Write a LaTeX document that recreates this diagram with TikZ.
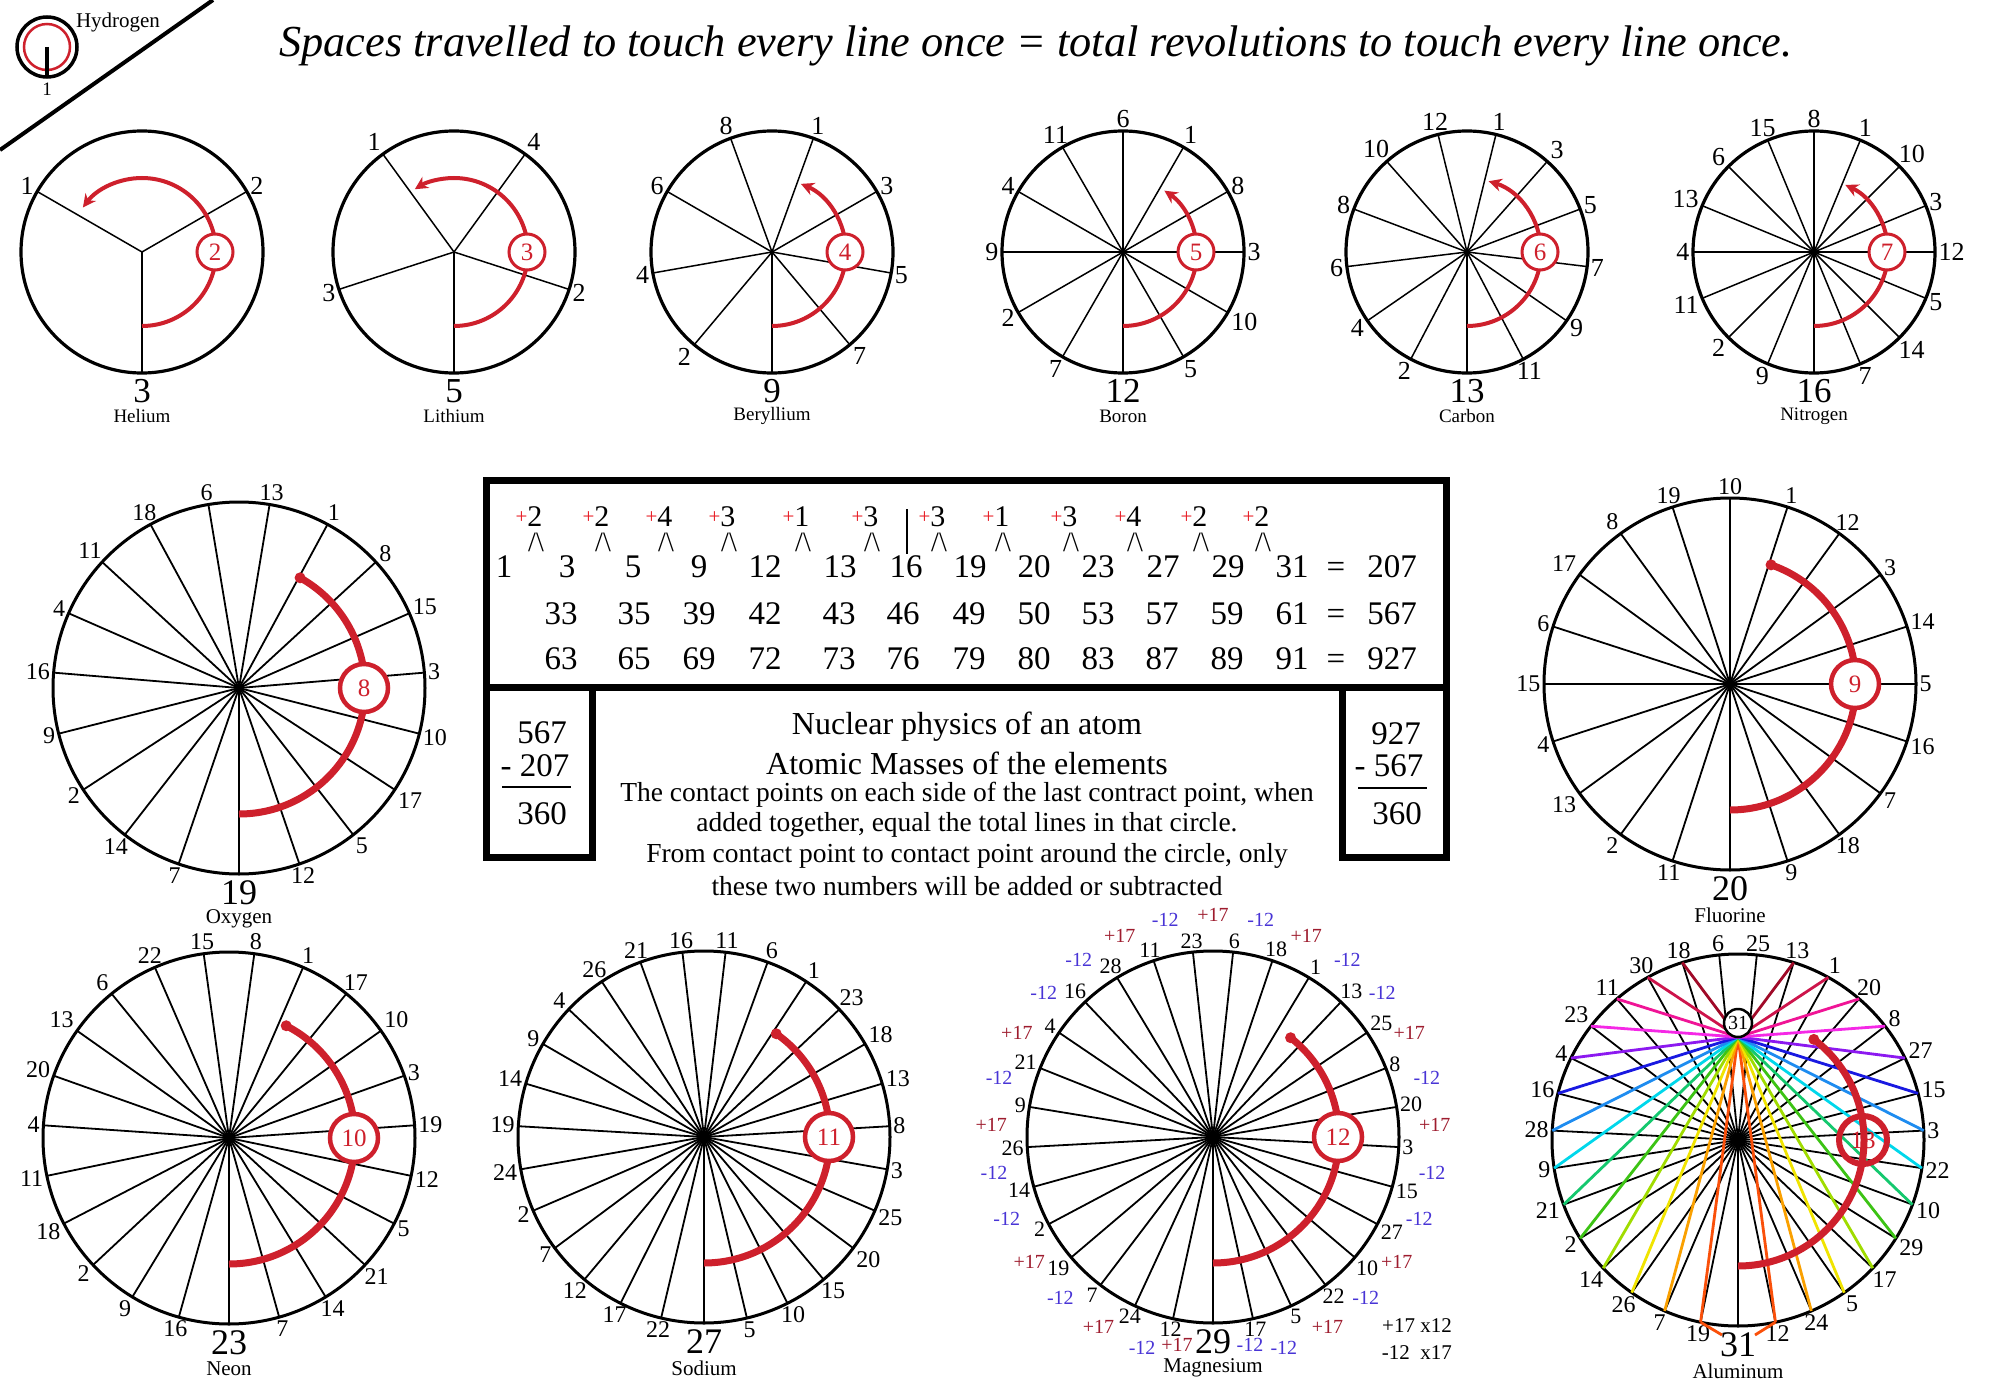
\documentclass[tikz,border=0pt]{standalone}
\usepackage{fontspec}
\setmainfont{Liberation Serif}
\usetikzlibrary{arrows.meta}
\definecolor{wred}{RGB}{206,32,44}
\definecolor{pred}{RGB}{232,28,36}
\definecolor{mgred}{RGB}{158,28,46}
\definecolor{mgblue}{RGB}{72,52,214}
\definecolor{alc1}{RGB}{250,80,10}
\definecolor{alc2}{RGB}{250,160,0}
\definecolor{alc3}{RGB}{240,228,0}
\definecolor{alc4}{RGB}{160,220,0}
\definecolor{alc5}{RGB}{60,195,20}
\definecolor{alc6}{RGB}{20,200,110}
\definecolor{alc7}{RGB}{0,215,235}
\definecolor{alc8}{RGB}{30,140,240}
\definecolor{alc9}{RGB}{25,25,225}
\definecolor{alc10}{RGB}{140,25,240}
\definecolor{alc11}{RGB}{245,40,230}
\definecolor{alc12}{RGB}{240,20,150}
\definecolor{alc13}{RGB}{205,20,75}
\definecolor{alc14}{RGB}{160,10,40}
\newcommand\fs[1]{\fontsize{#1}{#1}\selectfont}
\def\numoffA{18}\def\nameoffA{43}
\def\numoffB{19}\def\nameoffB{45}
\tikzset{
 rimA/.style={line width=3.2pt},
 spokeA/.style={line width=1.5pt},
 rimB/.style={line width=3pt},
 spokeB/.style={line width=1.8pt},
 lblA/.style={inner sep=2.5pt, font=\fs{26}},
 lblB/.style={inner sep=2.5pt, font=\fs{24}},
 lblx/.style={},
 bigA/.style={inner sep=0pt, font=\fs{35}},
 bigB/.style={inner sep=0pt, font=\fs{36}},
 nameA/.style={inner sep=0pt, font=\fs{19}},
 nameB/.style={inner sep=0pt, font=\fs{21}},
 arcA/.style={wred, line width=4pt, -{Stealth[length=13pt,width=13pt]}},
 arcB/.style={wred, line width=7pt},
 kA/.style={circle, draw=wred, line width=3pt, fill=white, text=wred, minimum size=36pt, inner sep=0pt, font=\fs{25}},
 kB/.style={circle, draw=wred, line width=4.5pt, fill=white, text=wred, minimum size=48pt, inner sep=0pt, font=\fs{25}},
 alline/.style={line width=2.8pt},
 smallc/.style={circle, draw, line width=2.5pt, fill=white, minimum size=28pt, inner sep=0pt, font=\fs{20}},
 mgp/.style={inner sep=0pt, text=mgred, font=\fs{20}},
 mgm/.style={inner sep=0pt, text=mgblue, font=\fs{20}},
 tbox/.style={line width=7pt},
 tnum/.style={inner sep=0pt, font=\fs{33}, text height=22pt, text depth=0pt},
 tplus/.style={inner sep=0pt, font=\fs{30}},
 tcar/.style={inner sep=0pt, font=\fs{28}},
 hd/.style={inner sep=0pt, font=\fs{32}},
 bd/.style={inner sep=0pt, font=\fs{27.5}},
}
% #1 name #2 cx #3 cy #4 R #5 N #6 k #7 A/B #8 element
\newcommand\wheel[8]{%
\begin{scope}[shift={(#2,#3)},yscale=-1]
 \coordinate (#1) at (0,0);
 \coordinate (#1-r#5) at (-90:#4);
 \draw[spoke#7] (#1) -- (#1-r#5);
 \pgfmathtruncatemacro\nmo{#5-1}
 \foreach \m in {1,...,\nmo} {%
   \pgfmathtruncatemacro\pp{mod(\m*#6,#5)}%
   \pgfmathsetmacro\aa{-90+\pp*360/#5}%
   \pgfmathsetmacro\bb{mod(\aa+540,360)}%
   \coordinate (#1-r\m) at (\aa:#4);
   \draw[spoke#7] (#1) -- (#1-r\m);
   \node[lbl#7, lblx, anchor=\bb] (#1-\m) at (\aa:#4+1) {\m};}
 \draw[rim#7] (#1) circle[radius=#4];
 \node[big#7] (#1-#5) at (0,-#4-\csname numoff#7\endcsname) {#5};
 \node[name#7] (#1-name) at (0,-#4-\csname nameoff#7\endcsname) {#8};
\end{scope}}
% #1 name #2 cx #3 cy #4 k #5 end angle
\newcommand\arcA[5]{%
\begin{scope}[shift={(#2,#3)},yscale=-1]
 \draw[arcA] (-90:74) arc[start angle=-90,end angle=#5,radius=74];
 \node[kA] (#1-k) at (0:73) {#4};
\end{scope}}
% #1 name #2 cx #3 cy #4 k #5 end angle #6 extra
\newcommand\arcB[6]{%
\begin{scope}[shift={(#2,#3)},yscale=-1]
 \draw[arcB] (-90:126) arc[start angle=-90,end angle=#5,radius=126];
 \fill[wred] (#5:126) circle[radius=5.5];
 \node[kB,#6] (#1-k) at (0:125) {#4};
\end{scope}}
\begin{document}
\begin{tikzpicture}[x=1pt,y=-1pt]
\useasboundingbox (0,0) rectangle (2000,1399);
\fill[white] (0,0) rectangle (2000,1399);

% title
\node[font=\fs{44.3}\itshape, anchor=base, inner sep=0pt] (title) at (1036,57)
 {Spaces travelled to touch every line once = total revolutions to touch every line once.};

% hydrogen
\coordinate (h) at (47,47);
\coordinate (h-r) at (47,77);
\draw[line width=3.5pt] (h) circle[radius=30];
\draw[wred, line width=2.5pt] (h) circle[radius=23];
\draw[line width=3.5pt] (h) -- (h-r);
\node[inner sep=0pt, font=\fs{19}] (h-1) at (47,89) {1};
\node[inner sep=0pt, font=\fs{21}] (h-name) at (118,22) {Hydrogen};
\coordinate (d1) at (213,0);
\coordinate (d2) at (0,150);
\draw[line width=4pt] (d1) -- (d2);

% row 1
\wheel{he}{142}{252}{121}{3}{2}{A}{Helium}
\wheel{li}{454}{252}{121}{5}{3}{A}{Lithium}
\wheel{be}{772}{252}{121}{9}{4}{A}{Beryllium}
\wheel{bo}{1123}{252}{121}{12}{5}{A}{Boron}
\wheel{ca}{1467}{252}{121}{13}{6}{A}{Carbon}
\wheel{ni}{1814}{252}{121}{16}{7}{A}{Nitrogen}
\arcA{he}{142}{252}{2}{143}
\arcA{li}{454}{252}{3}{122}
\arcA{be}{772}{252}{4}{67}
\arcA{bo}{1123}{252}{5}{56}
\arcA{ca}{1467}{252}{6}{73}
\arcA{ni}{1814}{252}{7}{65}

% rows 2 and 3
\wheel{ox}{239}{688}{186}{19}{8}{B}{Oxygen}
\wheel{fl}{1730}{684}{186}{20}{9}{B}{Fluorine}
\wheel{ne}{229}{1138}{186}{23}{10}{B}{Neon}
\wheel{na}{704}{1137}{186}{27}{11}{B}{Sodium}
\wheel{al}{1738}{1140}{186}{31}{13}{B}{Aluminum}
\tikzset{lblx/.style={font=\fs{22}}}
\wheel{mg}{1213}{1137}{186}{29}{12}{B}{Magnesium}
\arcB{ox}{239}{688}{8}{61}{}
\arcB{fl}{1730}{684}{9}{71}{}
\arcB{ne}{229}{1138}{10}{63}{}
\arcB{na}{704}{1137}{11}{55}{}
\arcB{mg}{1213}{1137}{12}{52}{}

% aluminium colour lines
\begin{scope}[shift={(1738,1140)},yscale=-1]
 \coordinate (al-P) at (0,103);
 \foreach \a/\b/\c in {12/19/alc1,24/7/alc2,5/26/alc3,17/14/alc4,29/2/alc5,10/21/alc6,22/9/alc7,3/28/alc8,15/16/alc9,27/4/alc10,8/23/alc11,20/11/alc12,1/30/alc13,13/18/alc14}
  {\draw[alline,\c] (al-P) -- (al-r\a); \draw[alline,\c] (al-P) -- (al-r\b);}
 \coordinate (al-e1) at (-16,-195);
 \coordinate (al-e2) at (17,-195);
 \draw[alline,alc1] (al-r19) -- (al-e1);
 \draw[alline,alc1] (al-r12) -- (al-e2);
 \node[smallc] (al-top) at (0,117) {31};
\end{scope}
\arcB{al}{1738}{1140}{13}{53}{fill=none, line width=6pt}

% magnesium differences
\begin{scope}[shift={(1213,1137)},yscale=-1]
 \foreach \p in {1,...,27} {%
  \pgfmathtruncatemacro\L{mod(17*\p+28,29)+1}%
  \pgfmathsetmacro\ang{-90+(\p+0.5)*360/29}%
  \ifnum\L>12 \node[mgm] (mg-d\p) at (\ang:222) {-12};%
  \else \node[mgp] (mg-d\p) at (\ang:222) {+17};\fi}
 \node[mgm] (mg-d0) at (37,-208) {-12};
 \node[mgp] (mg-d28) at (-36,-208) {+17};
\end{scope}
\node[anchor=east, inner sep=0pt, font=\fs{21}] (mg-c1) at (1452,1326) {+17 x12};
\node[anchor=east, inner sep=0pt, font=\fs{21}] (mg-c2) at (1452,1353) {-12\ \ x17};

% table
\draw[tbox] (486,480) rectangle (1446,687);
\draw[tbox] (486,687) rectangle (592,857);
\draw[tbox] (1342,687) rectangle (1446,857);
\foreach \x/\d [count=\i] in {529/2,596/2,659/4,722/3,796/1,865/3,932/3,996/1,1064/3,1128/4,1194/2,1256/2} {
 \node[tplus] (pl-\i) at (\x,517) {\raisebox{3pt}{\fs{21}\color{pred}+}\d};
 \node[tcar] (cr-\i) at (\x+7,542) {/\textbackslash};
}
\coordinate (vb1) at (907,509);
\coordinate (vb2) at (907,554);
\draw[line width=1.5pt] (vb1) -- (vb2);
\foreach \x/\t [count=\i] in {504/1,567/3,633/5,699/9,765/12,840/13,906/16,970/19,1034/20,1098/23,1163/27,1228/29,1292/31,1336/=,1392/207}
 \node[tnum] (ra-\i) at (\x,566) {\t};
\foreach \x/\t [count=\i] in {561/33,634/35,699/39,765/42,839/43,903/46,969/49,1034/50,1098/53,1162/57,1227/59,1292/61,1336/=,1392/567}
 \node[tnum] (rb-\i) at (\x,613) {\t};
\foreach \x/\t [count=\i] in {561/63,634/65,699/69,765/72,839/73,903/76,969/79,1034/80,1098/83,1162/87,1227/89,1292/91,1336/=,1392/927}
 \node[tnum] (rc-\i) at (\x,658) {\t};

\node[tnum] (lb1) at (542,732) {567};
\node[tnum] (lb2) at (535,765) {- 207};
\coordinate (lr1) at (502,787);
\coordinate (lr2) at (571,787);
\draw[line width=2.5pt] (lr1) -- (lr2);
\node[tnum] (lb3) at (542,813) {360};

\node[tnum] (rb1) at (1396,733) {927};
\node[tnum] (rb2) at (1389,765) {- 567};
\coordinate (rr1) at (1358,788);
\coordinate (rr2) at (1427,788);
\draw[line width=2.5pt] (rr1) -- (rr2);
\node[tnum] (rb3) at (1397,813) {360};

\node[hd] (t1) at (967,727) {Nuclear physics of an atom};
\node[hd] (t2) at (967,763) {Atomic Masses of the elements};
\node[bd] (t3) at (967,795) {The contact points on each side of the last contract point, when};
\node[bd] (t4) at (967,825) {added together, equal the total lines in that circle.};
\node[bd] (t5) at (967,856) {From contact point to contact point around the circle, only};
\node[bd] (t6) at (967,886) {these two numbers will be added or subtracted};
\end{tikzpicture}
\end{document}
